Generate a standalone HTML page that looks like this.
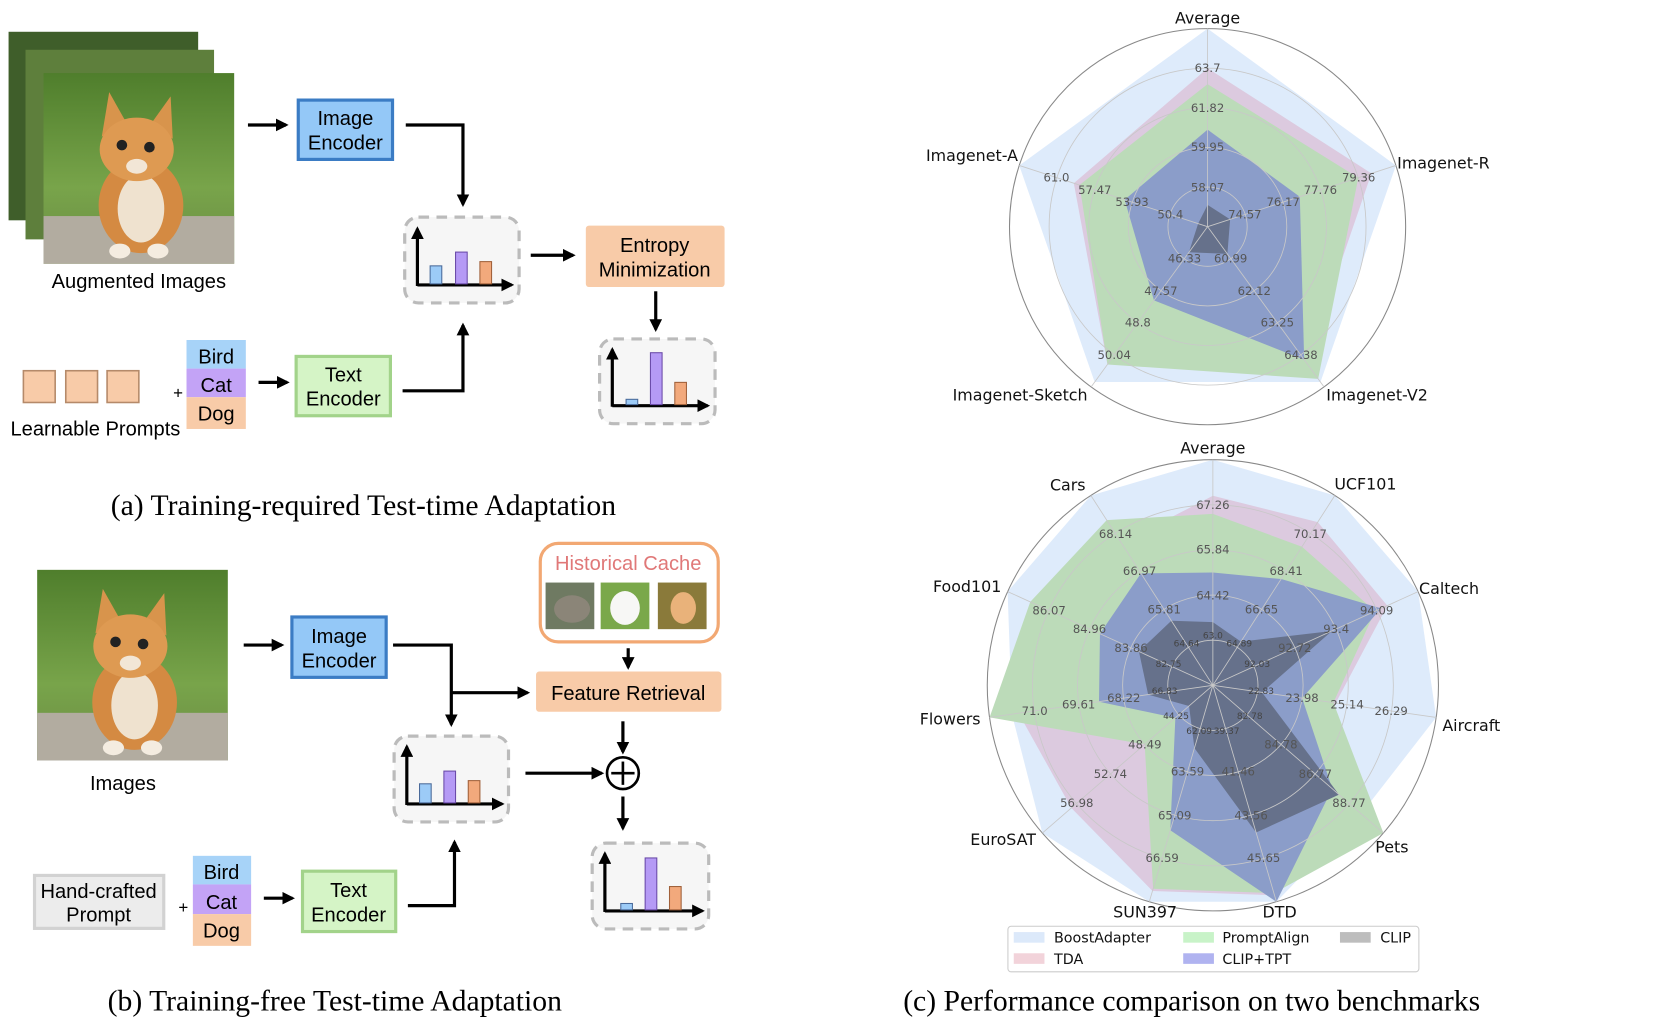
<!DOCTYPE html>
<html><head><meta charset="utf-8"><style>
html,body{margin:0;padding:0;background:#fff;width:1661px;height:1020px;overflow:hidden}
svg{display:block}
.s{font-family:"Liberation Sans",Arial,sans-serif;font-size:19px;fill:#000}
.cap{font-family:"Liberation Serif","Times New Roman",serif;font-size:28px;fill:#000}
.ax{font-family:"DejaVu Sans",sans-serif;font-size:15px;fill:#111}
.v{font-family:"DejaVu Sans",sans-serif;font-size:11px;fill:#555;text-anchor:middle;dominant-baseline:central}
.v2{font-family:"DejaVu Sans",sans-serif;font-size:8.5px;fill:#444;text-anchor:middle;dominant-baseline:central}
.lg{font-family:"DejaVu Sans",sans-serif;font-size:13.5px;fill:#111}
</style></head><body>
<svg id="sv" width="1661" height="1020" viewBox="0 0 1568 963" xmlns="http://www.w3.org/2000/svg">
<defs>
<marker id="ah" viewBox="0 0 10 10" refX="8" refY="5" markerWidth="4" markerHeight="4" orient="auto"><path d="M0,0L10,5L0,10z" fill="#000"/></marker>
<linearGradient id="gr" x1="0" y1="0" x2="0" y2="1"><stop offset="0" stop-color="#4f7e2c"/><stop offset="0.6" stop-color="#78a44a"/><stop offset="1" stop-color="#6b8c45"/></linearGradient>
<g id="cat">
<rect x="0" y="0" width="180" height="180" fill="url(#gr)"/>
<rect x="0" y="135" width="180" height="45" fill="#b2aca0"/>
<ellipse cx="92" cy="125" rx="40" ry="45" fill="#d48a42"/>
<ellipse cx="92" cy="128" rx="22" ry="32" fill="#efe2cf"/>
<polygon points="55,60 62,18 80,50" fill="#d8944c"/>
<polygon points="100,50 120,22 122,62" fill="#d8944c"/>
<ellipse cx="88" cy="72" rx="35" ry="30" fill="#de9a52"/>
<circle cx="74" cy="68" r="5" fill="#222"/><circle cx="100" cy="70" r="5" fill="#222"/>
<ellipse cx="88" cy="88" rx="10" ry="7" fill="#f2e6d6"/>
<ellipse cx="72" cy="168" rx="10" ry="7" fill="#f4ece0"/><ellipse cx="108" cy="168" rx="10" ry="7" fill="#f4ece0"/>
</g>
</defs>

<!-- (a) -->
<rect x="8" y="30" width="179" height="178" fill="#3f5e2a"/>
<rect x="24" y="47" width="178" height="179" fill="#5e7f3c"/>
<use href="#cat" transform="translate(41,69)"/>
<text class="s" x="131" y="272" text-anchor="middle">Augmented Images</text>
<line x1="234" y1="118" x2="270" y2="118" stroke="#000" stroke-width="3" marker-end="url(#ah)"/>
<rect x="281.5" y="94.5" width="89" height="56" fill="#94c8f7" stroke="#3b7cc4" stroke-width="3"/>
<text class="s" x="326" y="118" text-anchor="middle">Image</text>
<text class="s" x="326" y="141" text-anchor="middle">Encoder</text>
<polyline points="383,118 437,118 437,193" fill="none" stroke="#000" stroke-width="3" marker-end="url(#ah)"/>
<rect x="382" y="205" width="108" height="81" rx="13" fill="#f6f6f6" stroke="#bbb" stroke-width="3" stroke-dasharray="10,7"/>
<line x1="394" y1="270" x2="394" y2="216" stroke="#000" stroke-width="3" marker-end="url(#ah)"/>
<line x1="394" y1="269" x2="483" y2="269" stroke="#000" stroke-width="3" marker-end="url(#ah)"/>
<rect x="406" y="251" width="11" height="17" fill="#9ccbf7" stroke="#4a6a9a"/>
<rect x="430" y="238" width="11" height="30" fill="#b59af5" stroke="#6a4aa8"/>
<rect x="453" y="247" width="11" height="21" fill="#f2a97c" stroke="#a0603a"/>
<line x1="501" y1="241" x2="541" y2="241" stroke="#000" stroke-width="3" marker-end="url(#ah)"/>
<rect x="553" y="213" width="131" height="58" rx="3" fill="#f8cba8"/>
<text class="s" x="618" y="238" text-anchor="middle">Entropy</text>
<text class="s" x="618" y="261" text-anchor="middle">Minimization</text>
<line x1="619" y1="275" x2="619" y2="311" stroke="#000" stroke-width="3" marker-end="url(#ah)"/>
<rect x="566" y="320" width="109" height="80" rx="13" fill="#f6f6f6" stroke="#bbb" stroke-width="3" stroke-dasharray="10,7"/>
<line x1="578" y1="384" x2="578" y2="330" stroke="#000" stroke-width="3" marker-end="url(#ah)"/>
<line x1="578" y1="383" x2="668" y2="383" stroke="#000" stroke-width="3" marker-end="url(#ah)"/>
<rect x="591" y="377" width="11" height="5" fill="#9ccbf7" stroke="#4a6a9a"/>
<rect x="614" y="333" width="11" height="49" fill="#b59af5" stroke="#6a4aa8"/>
<rect x="637" y="361" width="11" height="21" fill="#f2a97c" stroke="#a0603a"/>
<rect x="22" y="350" width="30" height="30" fill="#f8cba8" stroke="#b58a6a" stroke-width="1.5"/>
<rect x="62" y="350" width="30" height="30" fill="#f8cba8" stroke="#b58a6a" stroke-width="1.5"/>
<rect x="101" y="350" width="30" height="30" fill="#f8cba8" stroke="#b58a6a" stroke-width="1.5"/>
<text class="s" x="90" y="411" text-anchor="middle">Learnable Prompts</text>
<text class="s" x="168" y="376" text-anchor="middle" style="font-size:16px">+</text>
<rect x="176" y="321" width="56" height="27" fill="#a7d3f8"/>
<rect x="176" y="348" width="56" height="27" fill="#c3a3f6"/>
<rect x="176" y="375" width="56" height="30" fill="#f8cba8"/>
<text class="s" x="204" y="343" text-anchor="middle">Bird</text>
<text class="s" x="204" y="370" text-anchor="middle">Cat</text>
<text class="s" x="204" y="397" text-anchor="middle">Dog</text>
<line x1="244" y1="361" x2="271" y2="361" stroke="#000" stroke-width="3" marker-end="url(#ah)"/>
<rect x="279.5" y="336.5" width="89" height="56" fill="#d5f4c6" stroke="#a2d38a" stroke-width="3"/>
<text class="s" x="324" y="360" text-anchor="middle">Text</text>
<text class="s" x="324" y="383" text-anchor="middle">Encoder</text>
<polyline points="380,369 437,369 437,307" fill="none" stroke="#000" stroke-width="3" marker-end="url(#ah)"/>
<text class="cap" x="343" y="486" text-anchor="middle">(a) Training-required Test-time Adaptation</text>

<!-- (b) -->
<use href="#cat" transform="translate(35,538)"/>
<text class="s" x="116" y="746" text-anchor="middle">Images</text>
<line x1="230" y1="609" x2="266" y2="609" stroke="#000" stroke-width="3" marker-end="url(#ah)"/>
<rect x="275.5" y="582.5" width="89" height="57" fill="#94c8f7" stroke="#3b7cc4" stroke-width="3"/>
<text class="s" x="320" y="607" text-anchor="middle">Image</text>
<text class="s" x="320" y="630" text-anchor="middle">Encoder</text>
<polyline points="371,609 426,609 426,684" fill="none" stroke="#000" stroke-width="3" marker-end="url(#ah)"/>
<line x1="426" y1="654" x2="498" y2="654" stroke="#000" stroke-width="3" marker-end="url(#ah)"/>
<rect x="510" y="513" width="168" height="93" rx="17" fill="#fff" stroke="#f2a873" stroke-width="3"/>
<text class="s" x="593" y="538" text-anchor="middle" style="fill:#e07878">Historical Cache</text>
<rect x="515" y="550" width="46" height="44" fill="#6f7a62"/><ellipse cx="540" cy="575" rx="17" ry="13" fill="#8b8578"/>
<rect x="567" y="550" width="46" height="44" fill="#7aa84a"/><ellipse cx="590" cy="574" rx="14" ry="16" fill="#f7f7f5"/>
<rect x="621" y="550" width="46" height="44" fill="#8a7a3a"/><ellipse cx="645" cy="574" rx="12" ry="15" fill="#e9b27a"/>
<line x1="593" y1="612" x2="593" y2="630" stroke="#000" stroke-width="3" marker-end="url(#ah)"/>
<rect x="506" y="634" width="175" height="38" rx="3" fill="#f8cba8"/>
<text class="s" x="593" y="661" text-anchor="middle">Feature Retrieval</text>
<line x1="588" y1="681" x2="588" y2="710" stroke="#000" stroke-width="3" marker-end="url(#ah)"/>
<circle cx="588" cy="730" r="15" fill="#fff" stroke="#000" stroke-width="2.5"/>
<line x1="577" y1="730" x2="599" y2="730" stroke="#000" stroke-width="2.5"/>
<line x1="588" y1="719" x2="588" y2="741" stroke="#000" stroke-width="2.5"/>
<line x1="496" y1="730" x2="568" y2="730" stroke="#000" stroke-width="3" marker-end="url(#ah)"/>
<line x1="588" y1="752" x2="588" y2="782" stroke="#000" stroke-width="3" marker-end="url(#ah)"/>
<rect x="372" y="695" width="108" height="81" rx="13" fill="#f6f6f6" stroke="#bbb" stroke-width="3" stroke-dasharray="10,7"/>
<line x1="384" y1="760" x2="384" y2="705" stroke="#000" stroke-width="3" marker-end="url(#ah)"/>
<line x1="384" y1="759" x2="474" y2="759" stroke="#000" stroke-width="3" marker-end="url(#ah)"/>
<rect x="396" y="740" width="11" height="18" fill="#9ccbf7" stroke="#4a6a9a"/>
<rect x="419" y="728" width="11" height="30" fill="#b59af5" stroke="#6a4aa8"/>
<rect x="442" y="737" width="11" height="21" fill="#f2a97c" stroke="#a0603a"/>
<rect x="559" y="796" width="110" height="81" rx="13" fill="#f6f6f6" stroke="#bbb" stroke-width="3" stroke-dasharray="10,7"/>
<line x1="571" y1="861" x2="571" y2="806" stroke="#000" stroke-width="3" marker-end="url(#ah)"/>
<line x1="571" y1="860" x2="663" y2="860" stroke="#000" stroke-width="3" marker-end="url(#ah)"/>
<rect x="586" y="853" width="11" height="6" fill="#9ccbf7" stroke="#4a6a9a"/>
<rect x="609" y="810" width="11" height="49" fill="#b59af5" stroke="#6a4aa8"/>
<rect x="632" y="837" width="11" height="22" fill="#f2a97c" stroke="#a0603a"/>
<rect x="32.5" y="826.5" width="122" height="50" fill="#ececec" stroke="#d2d2d2" stroke-width="3"/>
<text class="s" x="93" y="848" text-anchor="middle">Hand-crafted</text>
<text class="s" x="93" y="870" text-anchor="middle">Prompt</text>
<text class="s" x="173" y="862" text-anchor="middle" style="font-size:16px">+</text>
<rect x="182" y="808" width="55" height="27" fill="#a7d3f8"/>
<rect x="182" y="835" width="55" height="28" fill="#c3a3f6"/>
<rect x="182" y="863" width="55" height="30" fill="#f8cba8"/>
<text class="s" x="209" y="830" text-anchor="middle">Bird</text>
<text class="s" x="209" y="858" text-anchor="middle">Cat</text>
<text class="s" x="209" y="885" text-anchor="middle">Dog</text>
<line x1="249" y1="848" x2="276" y2="848" stroke="#000" stroke-width="3" marker-end="url(#ah)"/>
<rect x="285.5" y="822.5" width="88" height="57" fill="#d5f4c6" stroke="#a2d38a" stroke-width="3"/>
<text class="s" x="329" y="847" text-anchor="middle">Text</text>
<text class="s" x="329" y="870" text-anchor="middle">Encoder</text>
<polyline points="385,855 429,855 429,795" fill="none" stroke="#000" stroke-width="3" marker-end="url(#ah)"/>
<text class="cap" x="316" y="954" text-anchor="middle">(b) Training-free Test-time Adaptation</text>

<!-- radar top -->
<g id="r1"></g>
<g transform="translate(1140,214)">
<g class="v">
<text transform="rotate(0) translate(0,-37) rotate(0)">58.07</text>
<text transform="translate(0,-75)">59.95</text>
<text transform="translate(0,-112)">61.82</text>
<text transform="translate(0,-150)">63.7</text>
<text transform="rotate(72) translate(0,-37) rotate(-72)">74.57</text>
<text transform="rotate(72) translate(0,-75) rotate(-72)">76.17</text>
<text transform="rotate(72) translate(0,-112) rotate(-72)">77.76</text>
<text transform="rotate(72) translate(0,-150) rotate(-72)">79.36</text>
<text transform="rotate(144) translate(0,-37) rotate(-144)">60.99</text>
<text transform="rotate(144) translate(0,-75) rotate(-144)">62.12</text>
<text transform="rotate(144) translate(0,-112) rotate(-144)">63.25</text>
<text transform="rotate(144) translate(0,-150) rotate(-144)">64.38</text>
<text transform="rotate(216) translate(0,-37) rotate(-216)">46.33</text>
<text transform="rotate(216) translate(0,-75) rotate(-216)">47.57</text>
<text transform="rotate(216) translate(0,-112) rotate(-216)">48.8</text>
<text transform="rotate(216) translate(0,-150) rotate(-216)">50.04</text>
<text transform="rotate(288) translate(0,-37) rotate(-288)">50.4</text>
<text transform="rotate(288) translate(0,-75) rotate(-288)">53.93</text>
<text transform="rotate(288) translate(0,-112) rotate(-288)">57.47</text>
<text transform="rotate(288) translate(0,-150) rotate(-288)">61.0</text>
</g></g>
<text class="ax" x="1140" y="22" text-anchor="middle">Average</text>
<text class="ax" x="1319" y="159">Imagenet-R</text>
<text class="ax" x="961" y="152" text-anchor="end">Imagenet-A</text>
<text class="ax" x="963" y="378" text-anchor="middle">Imagenet-Sketch</text>
<text class="ax" x="1300" y="378" text-anchor="middle">Imagenet-V2</text>

<!-- radar bottom -->
<g id="r2"></g>
<g transform="translate(1145,647)">
<g class="v2">
<text transform="rotate(0) translate(0,-46)">63.0</text>
<text transform="rotate(32.73) translate(0,-46) rotate(-32.73)">64.89</text>
<text transform="rotate(65.45) translate(0,-46) rotate(-65.45)">92.03</text>
<text transform="rotate(98.18) translate(0,-46) rotate(-98.18)">22.83</text>
<text transform="rotate(130.91) translate(0,-46) rotate(-130.91)">82.78</text>
<text transform="rotate(163.64) translate(0,-46) rotate(-163.64)">39.37</text>
<text transform="rotate(196.36) translate(0,-46) rotate(-196.36)">62.09</text>
<text transform="rotate(229.09) translate(0,-46) rotate(-229.09)">44.25</text>
<text transform="rotate(261.82) translate(0,-46) rotate(-261.82)">66.83</text>
<text transform="rotate(294.55) translate(0,-46) rotate(-294.55)">82.75</text>
<text transform="rotate(327.27) translate(0,-46) rotate(-327.27)">64.64</text>
</g>
<g class="v">
<text transform="translate(0,-85)">64.42</text>
<text transform="translate(0,-128)">65.84</text>
<text transform="translate(0,-170)">67.26</text>
<text transform="rotate(32.73) translate(0,-85) rotate(-32.73)">66.65</text>
<text transform="rotate(32.73) translate(0,-128) rotate(-32.73)">68.41</text>
<text transform="rotate(32.73) translate(0,-170) rotate(-32.73)">70.17</text>
<text transform="rotate(65.45) translate(0,-85) rotate(-65.45)">92.72</text>
<text transform="rotate(65.45) translate(0,-128) rotate(-65.45)">93.4</text>
<text transform="rotate(65.45) translate(0,-170) rotate(-65.45)">94.09</text>
<text transform="rotate(98.18) translate(0,-85) rotate(-98.18)">23.98</text>
<text transform="rotate(98.18) translate(0,-128) rotate(-98.18)">25.14</text>
<text transform="rotate(98.18) translate(0,-170) rotate(-98.18)">26.29</text>
<text transform="rotate(130.91) translate(0,-85) rotate(-130.91)">84.78</text>
<text transform="rotate(130.91) translate(0,-128) rotate(-130.91)">86.77</text>
<text transform="rotate(130.91) translate(0,-170) rotate(-130.91)">88.77</text>
<text transform="rotate(163.64) translate(0,-85) rotate(-163.64)">41.46</text>
<text transform="rotate(163.64) translate(0,-128) rotate(-163.64)">43.56</text>
<text transform="rotate(163.64) translate(0,-170) rotate(-163.64)">45.65</text>
<text transform="rotate(196.36) translate(0,-85) rotate(-196.36)">63.59</text>
<text transform="rotate(196.36) translate(0,-128) rotate(-196.36)">65.09</text>
<text transform="rotate(196.36) translate(0,-170) rotate(-196.36)">66.59</text>
<text transform="rotate(229.09) translate(0,-85) rotate(-229.09)">48.49</text>
<text transform="rotate(229.09) translate(0,-128) rotate(-229.09)">52.74</text>
<text transform="rotate(229.09) translate(0,-170) rotate(-229.09)">56.98</text>
<text transform="rotate(261.82) translate(0,-85) rotate(-261.82)">68.22</text>
<text transform="rotate(261.82) translate(0,-128) rotate(-261.82)">69.61</text>
<text transform="rotate(261.82) translate(0,-170) rotate(-261.82)">71.0</text>
<text transform="rotate(294.55) translate(0,-85) rotate(-294.55)">83.86</text>
<text transform="rotate(294.55) translate(0,-128) rotate(-294.55)">84.96</text>
<text transform="rotate(294.55) translate(0,-170) rotate(-294.55)">86.07</text>
<text transform="rotate(327.27) translate(0,-85) rotate(-327.27)">65.81</text>
<text transform="rotate(327.27) translate(0,-128) rotate(-327.27)">66.97</text>
<text transform="rotate(327.27) translate(0,-170) rotate(-327.27)">68.14</text>
</g></g>
<text class="ax" x="1145" y="428" text-anchor="middle">Average</text>
<text class="ax" x="1289" y="462" text-anchor="middle">UCF101</text>
<text class="ax" x="1368" y="561" text-anchor="middle">Caltech</text>
<text class="ax" x="1389" y="690" text-anchor="middle">Aircraft</text>
<text class="ax" x="1314" y="805" text-anchor="middle">Pets</text>
<text class="ax" x="1208" y="866" text-anchor="middle">DTD</text>
<text class="ax" x="1081" y="866" text-anchor="middle">SUN397</text>
<text class="ax" x="947" y="798" text-anchor="middle">EuroSAT</text>
<text class="ax" x="897" y="684" text-anchor="middle">Flowers</text>
<text class="ax" x="913" y="559" text-anchor="middle">Food101</text>
<text class="ax" x="1008" y="463" text-anchor="middle">Cars</text>

<!-- legend -->
<rect x="951.5" y="874.5" width="388" height="43" rx="3" fill="#fff" stroke="#ccc"/>
<rect x="957" y="880" width="29" height="10" fill="#dce9fa"/>
<text class="lg" x="995" y="890">BoostAdapter</text>
<rect x="1117" y="880" width="29" height="10" fill="#c8f3c8"/>
<text class="lg" x="1154" y="890">PromptAlign</text>
<rect x="1265" y="880" width="29" height="10" fill="#bdbdbd"/>
<text class="lg" x="1303" y="890">CLIP</text>
<rect x="957" y="900" width="29" height="10" fill="#f2d3da"/>
<text class="lg" x="995" y="910">TDA</text>
<rect x="1117" y="900" width="29" height="10" fill="#b0b3f0"/>
<text class="lg" x="1154" y="910">CLIP+TPT</text>
<text class="cap" x="1125" y="954" text-anchor="middle">(c) Performance comparison on two benchmarks</text>
</svg>
<script>
(function(){
var NS="http://www.w3.org/2000/svg";
function el(t,a,p){var e=document.createElementNS(NS,t);for(var k in a)e.setAttribute(k,a[k]);p.appendChild(e);return e;}
function radar(id,cx,cy,R,n,sets){
 var g=document.getElementById(id);
 function pt(i,f){var a=i*2*Math.PI/n;return [cx+R*f*Math.sin(a),cy-R*f*Math.cos(a)];}
 sets.forEach(function(s){var p=s[0].map(function(f,i){return pt(i,f).map(function(v){return v.toFixed(1)}).join(",")}).join(" ");el("polygon",{points:p,fill:s[1]},g);});
 for(var k=1;k<=4;k++)el("circle",{cx:cx,cy:cy,r:R*k/5,fill:"none",stroke:"#c8c8c8","stroke-width":0.8},g);
 el("circle",{cx:cx,cy:cy,r:R,fill:"none",stroke:"#888","stroke-width":1},g);
 for(var i=0;i<n;i++){var q=pt(i,1);el("line",{x1:cx,y1:cy,x2:q[0],y2:q[1],stroke:"#c8c8c8","stroke-width":0.8},g);}
}
radar("r1",1140,214,187,5,[
 [[1,1,0.97,0.97,1],"#deebfb"],
 [[0.8,0.87,0.85,0.86,0.71],"#dccadf"],
 [[0.72,0.80,0.95,0.86,0.68],"#bcdbb9"],
 [[0.49,0.49,0.83,0.46,0.44],"#8b9dc9"],
 [[0.11,0.12,0.17,0.16,0.05],"#66718b"]]);
radar("r2",1145,647,213,11,[
 [[1,1,1,1,0.87,1,1,1,0.9,1,1],"#deebfb"],
 [[0.84,0.86,0.85,0.55,0.6,0.97,0.95,0.83,0.87,0.88,0.75],"#dccadf"],
 [[0.76,0.73,0.79,0.54,1.0,0.96,0.94,0.40,1.0,0.89,0.87],"#bcdbb9"],
 [[0.50,0.56,0.82,0.40,0.70,1.0,0.67,0.22,0.51,0.55,0.59],"#8b9dc9"],
 [[0.28,0.23,0.58,0.22,0.74,0.68,0.29,0.14,0.29,0.36,0.34],"#66718b"]]);
})();
</script>
</body></html>
